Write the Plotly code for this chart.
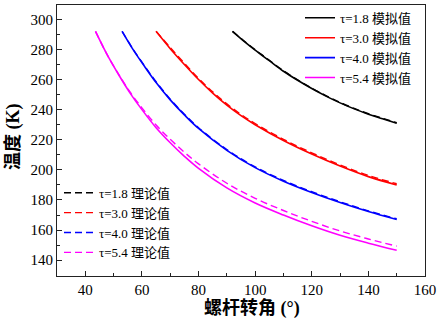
import plotly.graph_objects as go

# ---------------- data ----------------
ang_18 = [92, 96, 100, 105, 110, 115, 120, 125, 130, 135, 140, 145, 150]
sim_18 = [292, 285.5, 279.5, 272.5, 265.5, 259.5, 254, 249, 244.5, 240.5, 237, 234, 231]
theo_18 = [292, 285.8, 279.8, 272.8, 265.8, 259.8, 254.3, 249.3, 244.8, 240.8, 237.3, 234.3, 231.3]

ang_30 = [65, 70, 75, 80, 85, 90, 95, 100, 110, 120, 130, 140, 150]
sim_30 = [292, 280.5, 270, 260, 251, 243, 236, 230, 219.5, 210.5, 202.5, 195.5, 190]
theo_30 = [292, 281.3, 270.8, 260.8, 251.8, 243.8, 236.8, 230.8, 220.3, 211.3, 203.3, 196.3, 190.8]

ang_40 = [53, 57, 61, 65, 70, 75, 80, 90, 100, 110, 120, 130, 140, 150]
sim_40 = [292, 279.5, 268.5, 258, 246.5, 236.5, 227.5, 213, 201.5, 192.5, 185, 178.3, 172.3, 167]
theo_40 = [292, 279.8, 268.9, 258.5, 247.0, 237.0, 228.0, 213.5, 202.0, 193.0, 185.5, 178.8, 172.8, 167.5]

ang_54 = [43.6, 48, 52, 56, 60, 65, 70, 75, 80, 90, 100, 110, 120, 130, 140, 150]
sim_54 = [292, 275.5, 262.5, 250.5, 240, 228, 218, 209, 201, 188, 178, 170, 162.8, 156.5, 151.3, 146.6]
theo_54 = [292, 275.5, 262.8, 251.2, 241.2, 229.8, 220.3, 211.7, 204.0, 191.1, 181.1, 173.0, 165.8, 159.4, 154.1, 149.3]

sim_names = ["τ=1.8 模拟值", "τ=3.0 模拟值", "τ=4.0 模拟值", "τ=5.4 模拟值"]
theo_names = ["τ=1.8 理论值", "τ=3.0 理论值", "τ=4.0 理论值", "τ=5.4 理论值"]
x_ticks = [40, 60, 80, 100, 120, 140, 160]
y_ticks = [140, 160, 180, 200, 220, 240, 260, 280, 300]
x_title = "螺杆转角 (°)"
y_title = "温度 (K)"

colors = ["#000000", "#FF0000", "#0000FF", "#FF00FF"]
FONT = "Liberation Serif, Noto Sans CJK SC"

angs = [ang_18, ang_30, ang_40, ang_54]
sims = [sim_18, sim_30, sim_40, sim_54]
theos = [theo_18, theo_30, theo_40, theo_54]

fig = go.Figure()
for a, s, n, c in zip(angs, sims, sim_names, colors):
    fig.add_trace(go.Scatter(x=a, y=s, name=n, mode="lines",
                             line=dict(color=c, width=1.6, shape="spline"),
                             legend="legend"))
for a, t, n, c in zip(angs, theos, theo_names, colors):
    fig.add_trace(go.Scatter(x=a, y=t, name=n, mode="lines",
                             line=dict(color=c, width=1.4, dash="7px,4px", shape="spline"),
                             legend="legend2"))

axis_common = dict(showline=True, linecolor="#222", linewidth=1.2, mirror=True,
                   ticks="inside", ticklen=5, tickwidth=1, tickcolor="#222",
                   showgrid=False, zeroline=False,
                   tickfont=dict(family=FONT, size=15, color="#000"),
                   minor=dict(ticks="inside", ticklen=3, tickwidth=1, tickcolor="#222"))

fig.update_xaxes(range=[30, 160], tickvals=x_ticks, ticktext=[str(v) for v in x_ticks],
                 minor_dtick=10, **axis_common)
fig.update_yaxes(range=[129.5, 309.5], tickvals=y_ticks, ticktext=[str(v) for v in y_ticks],
                 minor_dtick=10, **axis_common)

fig.add_annotation(text="<b>" + x_title + "</b>", xref="paper", yref="paper",
                   x=(252 - 57) / 368, y=-(308 - 276) / 273, xanchor="center", yanchor="middle",
                   showarrow=False, font=dict(family=FONT, size=18, color="#000"))
fig.add_annotation(text="<b>" + y_title + "</b>", xref="paper", yref="paper",
                   x=-(57 - 13) / 368, y=(276 - 136) / 273, xanchor="center", yanchor="middle",
                   textangle=-90, showarrow=False, font=dict(family=FONT, size=18, color="#000"))

fig.update_layout(
    width=439, height=321,
    margin=dict(l=57, r=14, t=3, b=45),
    paper_bgcolor="white", plot_bgcolor="white",
    font=dict(family=FONT, size=13, color="#000"),
    legend=dict(x=(300 - 57) / 368, y=1.008, xanchor="left", yanchor="top",
                bgcolor="rgba(0,0,0,0)", font=dict(family=FONT, size=13),
                tracegroupgap=0, itemwidth=30),
    legend2=dict(x=(59 - 57) / 368, y=1 - (177 - 3) / 273, xanchor="left", yanchor="top",
                 bgcolor="rgba(0,0,0,0)", font=dict(family=FONT, size=13),
                 tracegroupgap=0, itemwidth=30),
)

fig.write_html("out.html", config={"displayModeBar": False},
               post_script="document.body.style.margin='0px';")
